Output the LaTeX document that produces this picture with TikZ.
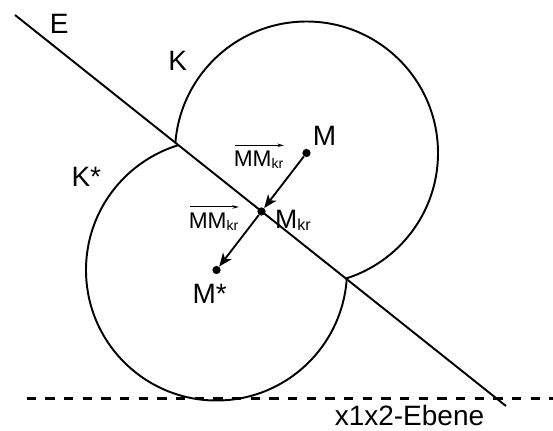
\documentclass[tikz,border=0pt]{standalone}
\usepackage{fontspec}
\setmainfont{Liberation Sans}
\usetikzlibrary{arrows.meta,calc}
\begin{document}
\begin{tikzpicture}[x=0.75pt,y=-0.75pt,
  ln/.style={line width=1.45pt},
  dot/.style={circle,fill,inner sep=0pt,minimum size=6.2pt},
  lbl/.style={anchor=base west,inner sep=0pt,font=\fontsize{21}{25}\selectfont},
  vlbl/.style={anchor=base west,inner sep=0pt,font=\fontsize{17}{20}\selectfont},
  vecarrow/.style={line width=1.4pt,-{Stealth[length=10pt,width=8pt,inset=2.8pt]}},
  overarrow/.style={line width=0.7pt,-{Stealth[length=5pt,width=2.6pt]}},
  plane/.style={line width=1.8pt,dash pattern=on 7pt off 7pt}
]
\useasboundingbox (0,0) rectangle (553,430);
% plane E
\coordinate (A) at (15,15);
\coordinate (B) at (506,406);
\coordinate (Ea) at ($(A)!-0.6!(B)$);
\coordinate (Eb) at ($(A)!1.6!(B)$);
% centres
\node[dot] (M) at (306.5,153) {};
\node[dot] (Ms) at (216.5,270) {};
\node[dot] (Mkr) at (261.5,211.5) {};
% circle K (above E)
\begin{scope}
  \clip (Ea) -- (Eb) -- (900,-400) -- (-400,-400) -- cycle;
  \draw[ln] (M.center) circle[radius=131.5];
\end{scope}
% circle K* (below E)
\begin{scope}
  \clip (Ea) -- (Eb) -- (900,900) -- (-400,900) -- cycle;
  \draw[ln] (Ms.center) circle[radius=130.5];
\end{scope}
\draw[ln] (A) -- (B);
% x1x2-plane
\coordinate (D1) at (26.7,398.5);
\coordinate (D2) at (553,398.5);
\draw[plane] (D1) -- (D2);
% vectors
\draw[vecarrow] (M) -- (Mkr);
\draw[vecarrow] (Mkr) -- (Ms);
% labels
\node[lbl] (lE) at (49.5,33.3) {E};
\node[lbl] (lK) at (168,70) {K};
\node[lbl] (lKs) at (71.3,186) {K*};
\node[lbl] (lM) at (312.5,145) {M};
\node[lbl] (lMs) at (192.3,303.3) {M*};
\node[anchor=base west,inner sep=0pt,font=\fontsize{20}{24}\selectfont] (lMkr) at (274.8,228.3) {M\raisebox{-1.5pt}{\fontsize{12}{14}\selectfont kr}};
\node[lbl] (lEb) at (334.5,425.5) {x1x2-Ebene};
\node[vlbl] (v1) at (233.5,166.7) {MM\raisebox{-1.5pt}{\fontsize{10.5}{12}\selectfont kr}};
\draw[overarrow] ($(v1.north west)+(1.5,-5.5)$) -- ($(v1.north east)+(0.5,-5.5)$);
\node[vlbl] (v2) at (188.5,228.3) {MM\raisebox{-1.5pt}{\fontsize{10.5}{12}\selectfont kr}};
\draw[overarrow] ($(v2.north west)+(1.5,-5.5)$) -- ($(v2.north east)+(0.5,-5.5)$);
\end{tikzpicture}
\end{document}
